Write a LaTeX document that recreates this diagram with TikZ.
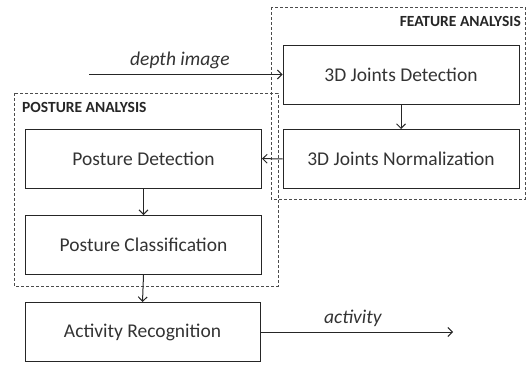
\documentclass[tikz,border=0pt]{standalone}
\usepackage{fontspec}
\setmainfont{Carlito}
\usetikzlibrary{arrows.meta}
\begin{document}
\begin{tikzpicture}[x=1pt,y=-1pt,
  blk/.style={draw=black!85,line width=1pt,minimum width=236pt,minimum height=59pt,inner sep=0pt,font=\fontsize{19.5}{23}\selectfont,text=black!80},
  grp/.style={draw=black!70,densely dashed,line width=0.6pt},
  grplabel/.style={font=\bfseries\fontsize{15.5}{18}\selectfont,text=black!85,inner sep=0pt},
  conn/.style={line width=1pt,draw=black!85,-{Straight Barb[length=4.5pt,width=9pt,line width=1pt]}},
  lbl/.style={font=\itshape\fontsize{19.5}{23}\selectfont,text=black!80,inner sep=0pt}]
\useasboundingbox (0,0) rectangle (526,364);
% group boxes
\draw[grp] (271,7) rectangle (525,199);
\draw[grp] (14,93) rectangle (278,286);
\node[grplabel,anchor=east] (fa) at (521,21) {FEATURE ANALYSIS};
\node[grplabel,anchor=west] (pa) at (22,107) {POSTURE ANALYSIS};
% blocks
\node[blk] (jd) at (401,74.5) {3D Joints Detection};
\node[blk] (jn) at (401,159) {3D Joints Normalization};
\node[blk] (pd) at (143.5,158.5) {Posture Detection};
\node[blk] (pc) at (143.5,245) {Posture Classification};
\node[blk,minimum width=235pt] (ar) at (142.5,332) {Activity Recognition};
% free ends
\coordinate (din) at (89,74.5);
\coordinate (aout) at (453,332);
% connectors
\draw[conn] (din) -- node[lbl,above=5pt,pos=0.47] (dl) {depth image} (jd.west);
\draw[conn] (jd) -- (jn);
\draw[conn] (jn) -- (pd);
\draw[conn] (pd) -- (pc);
\draw[conn] (pc.south) -- (ar.north);
\draw[conn] (ar.east) -- node[lbl,above=5pt,pos=0.48] (al) {activity} (aout);
\end{tikzpicture}
\end{document}
